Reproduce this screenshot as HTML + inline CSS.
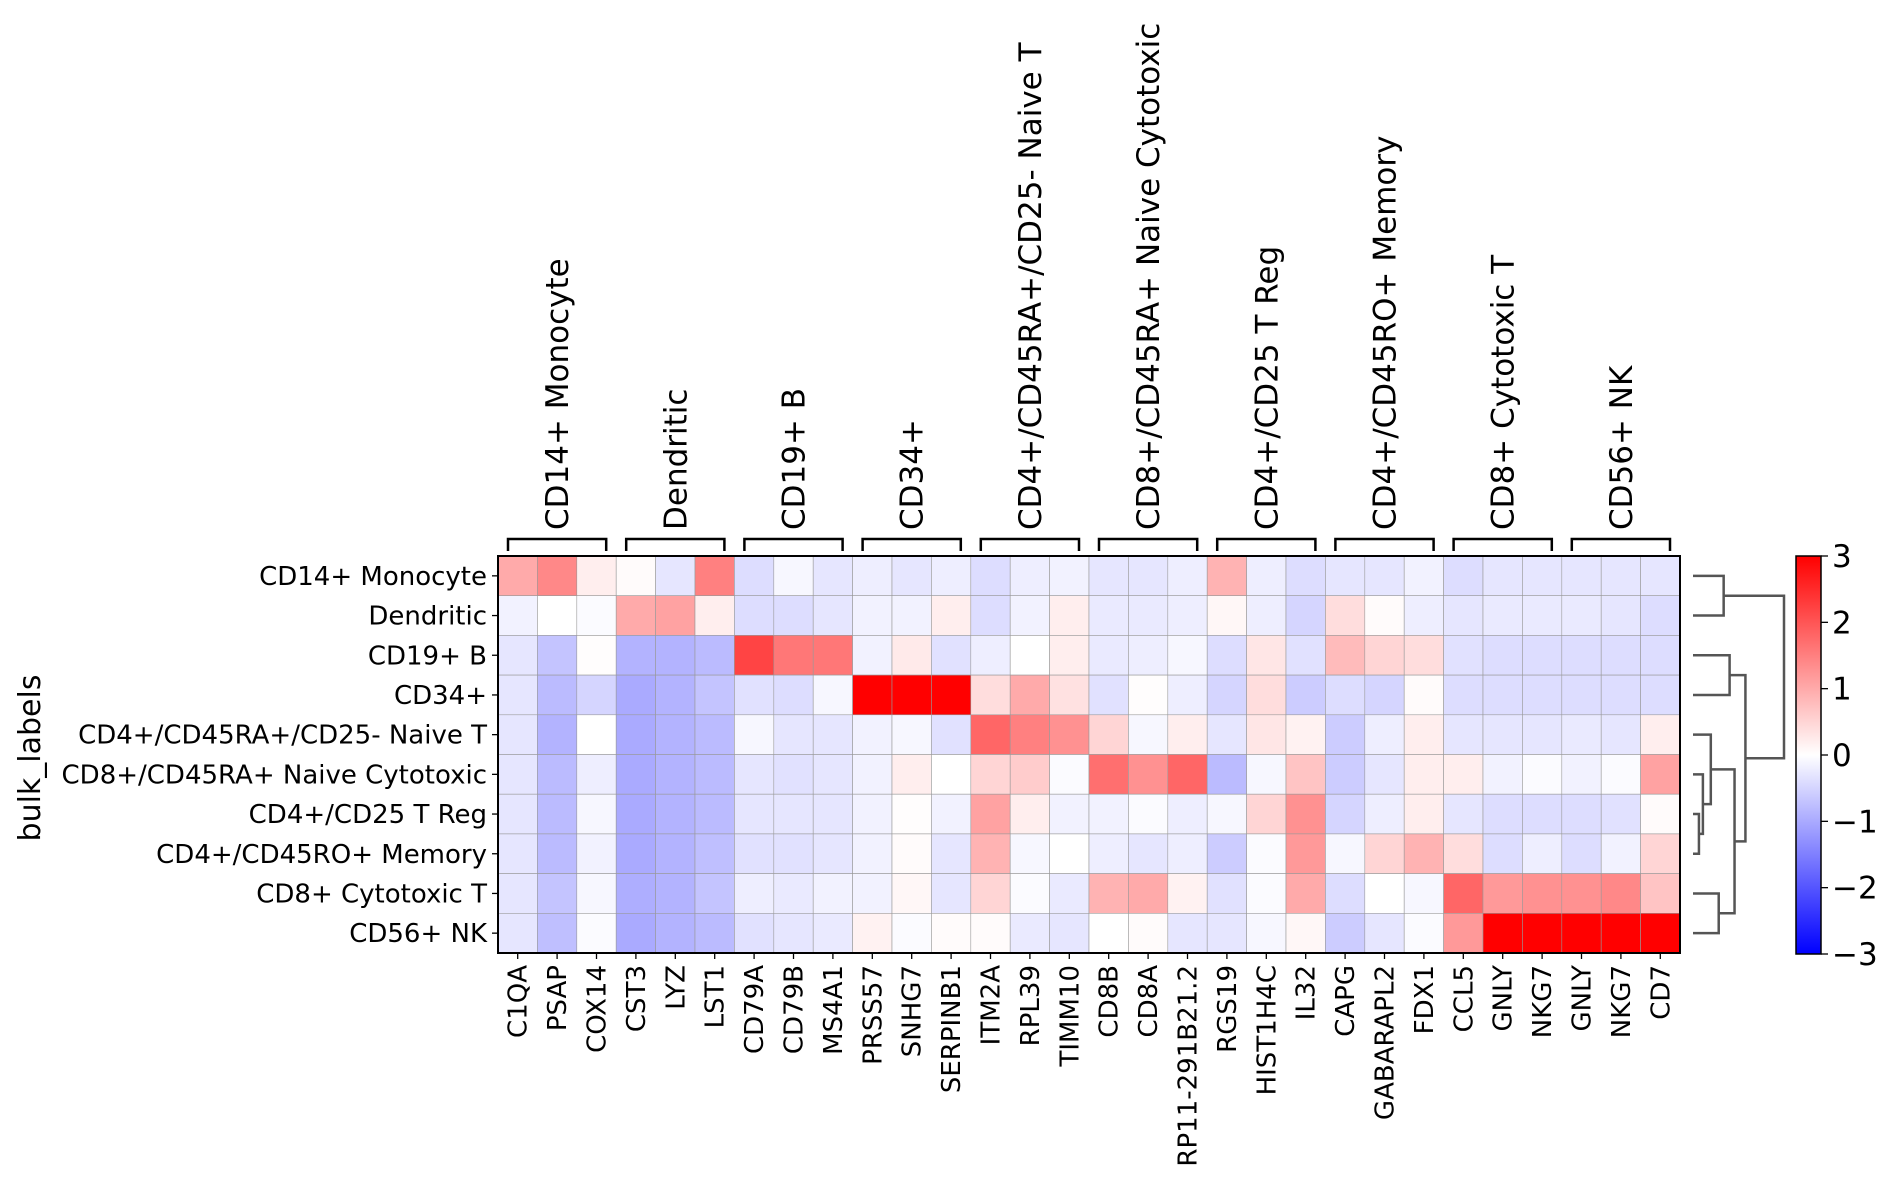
<!DOCTYPE html>
<html><head><meta charset="utf-8"><style>
body{margin:0;background:#fff}
svg text{font-family:"DejaVu Sans","Liberation Sans",sans-serif;fill:#000}
</style></head><body>
<svg id="chart" width="1898" height="1186" viewBox="0 0 1898 1186" xmlns="http://www.w3.org/2000/svg"></svg>
<script>
const rows=["CD14+ Monocyte","Dendritic","CD19+ B","CD34+","CD4+/CD45RA+/CD25- Naive T","CD8+/CD45RA+ Naive Cytotoxic","CD4+/CD25 T Reg","CD4+/CD45RO+ Memory","CD8+ Cytotoxic T","CD56+ NK"];
const genes=["C1QA","PSAP","COX14","CST3","LYZ","LST1","CD79A","CD79B","MS4A1","PRSS57","SNHG7","SERPINB1","ITM2A","RPL39","TIMM10","CD8B","CD8A","RP11-291B21.2","RGS19","HIST1H4C","IL32","CAPG","GABARAPL2","FDX1","CCL5","GNLY","NKG7","GNLY","NKG7","CD7"];
const groups=["CD14+ Monocyte","Dendritic","CD19+ B","CD34+","CD4+/CD45RA+/CD25- Naive T","CD8+/CD45RA+ Naive Cytotoxic","CD4+/CD25 T Reg","CD4+/CD45RO+ Memory","CD8+ Cytotoxic T","CD56+ NK"];
const groupSizes=[3,3,3,3,3,3,3,3,3,3];
const values=[
[1.0,1.4,0.2,0.05,-0.3,1.5,-0.4,-0.1,-0.3,-0.2,-0.3,-0.2,-0.4,-0.2,-0.15,-0.3,-0.3,-0.2,0.9,-0.2,-0.4,-0.3,-0.3,-0.15,-0.4,-0.3,-0.3,-0.3,-0.3,-0.3],
[-0.15,0,-0.05,1.0,1.1,0.2,-0.4,-0.4,-0.3,-0.15,-0.15,0.2,-0.4,-0.15,0.2,-0.25,-0.25,-0.2,0.1,-0.2,-0.5,0.4,0.05,-0.2,-0.3,-0.25,-0.25,-0.25,-0.3,-0.4],
[-0.3,-0.7,0.02,-0.9,-0.9,-0.8,2.2,1.6,1.6,-0.15,0.25,-0.35,-0.2,0.0,0.2,-0.25,-0.2,-0.1,-0.4,0.3,-0.35,0.8,0.5,0.4,-0.35,-0.4,-0.4,-0.4,-0.4,-0.4],
[-0.3,-0.8,-0.5,-1.0,-0.9,-0.7,-0.35,-0.4,-0.1,3,3,3,0.4,1.0,0.35,-0.35,0.02,-0.2,-0.5,0.4,-0.6,-0.4,-0.5,0.05,-0.4,-0.4,-0.4,-0.4,-0.4,-0.4],
[-0.3,-0.9,0.0,-1.0,-0.9,-0.8,-0.1,-0.3,-0.3,-0.15,-0.1,-0.35,1.8,1.5,1.3,0.5,-0.1,0.2,-0.3,0.3,0.15,-0.6,-0.2,0.2,-0.3,-0.3,-0.3,-0.25,-0.3,0.2],
[-0.3,-0.8,-0.2,-1.0,-0.9,-0.8,-0.3,-0.35,-0.3,-0.15,0.2,0.0,0.5,0.6,-0.05,1.7,1.3,1.8,-0.8,-0.1,0.7,-0.6,-0.3,0.2,0.2,-0.15,-0.05,-0.15,-0.05,1.1],
[-0.3,-0.8,-0.1,-1.0,-0.9,-0.8,-0.3,-0.3,-0.3,-0.15,0.02,-0.15,1.1,0.2,-0.15,-0.15,-0.05,-0.2,-0.1,0.5,1.3,-0.5,-0.2,0.2,-0.3,-0.4,-0.4,-0.4,-0.35,0.05],
[-0.3,-0.8,-0.15,-1.0,-0.9,-0.75,-0.35,-0.35,-0.3,-0.15,0.05,-0.3,0.9,-0.1,0.0,-0.2,-0.3,-0.2,-0.6,-0.05,1.2,-0.1,0.5,0.9,0.4,-0.4,-0.2,-0.4,-0.15,0.5],
[-0.3,-0.7,-0.1,-0.95,-0.9,-0.7,-0.2,-0.25,-0.15,-0.15,0.1,-0.3,0.5,-0.05,-0.25,0.9,1.0,0.15,-0.35,-0.05,1.0,-0.4,0.0,-0.1,1.8,1.2,1.3,1.3,1.4,0.7],
[-0.3,-0.75,-0.05,-1.0,-0.9,-0.8,-0.35,-0.3,-0.25,0.15,-0.05,0.05,0.05,-0.25,-0.3,0.0,0.05,-0.3,-0.3,-0.1,0.1,-0.6,-0.3,-0.05,1.2,3,3,3,3,3]];
const cbTicks=[3,2,1,0,-1,-2,-3];
// dendrogram links: [leftNode,rightNode,height]; nodes 0-9 leaves, 10+ merged
const links=[[6,7,0.6],[5,10,1.0],[4,11,1.8],[8,9,2.6],[12,13,4.2],[2,3,3.7],[0,1,3.1],[15,14,5.3],[16,17,9.2]];

const svg=document.getElementById('chart');const NS='http://www.w3.org/2000/svg';
function mk(t,a,p){const e=document.createElementNS(NS,t);for(const k in a)e.setAttribute(k,a[k]);(p||svg).appendChild(e);return e;}
const L=498,R=1680,T=556,B=953;
const cw=(R-L)/genes.length,rh=(B-T)/rows.length;
const xs=i=>L+i*cw, ys=j=>T+j*rh;
function col(v){v=Math.max(-3,Math.min(3,v));let r,g,b;if(v<0){r=g=Math.round(255*(1+v/3));b=255;}else{r=255;g=b=Math.round(255*(1-v/3));}return `rgb(${r},${g},${b})`;}
values.forEach((row,j)=>row.forEach((v,i)=>{const c=mk('rect',{x:xs(i),y:ys(j),width:cw,height:rh,fill:col(v),stroke:'#999','stroke-width':0.6});

}));
const fr=mk('rect',{x:L,y:T,width:R-L,height:B-T,fill:'none',stroke:'#000','stroke-width':2});

rows.forEach((r,j)=>{const y=ys(j)+rh/2;mk('line',{x1:L-6,x2:L,y1:y,y2:y,stroke:'#000','stroke-width':1.3});
const t=mk('text',{x:L-11,y:y+9,'text-anchor':'end','font-size':26});t.textContent=r;
});
genes.forEach((g,i)=>{const x=xs(i)+cw/2;mk('line',{x1:x,x2:x,y1:B,y2:B+6,stroke:'#000','stroke-width':1.3});
const t=mk('text',{transform:`translate(${x+9},${B+12}) rotate(-90)`,'text-anchor':'end','font-size':26});t.textContent=g;
});
let s=0;groups.forEach((g,k)=>{const x0=xs(s)+10,x1=xs(s+groupSizes[k])-10;s+=groupSizes[k];
const p=mk('path',{d:`M${x0},551 V539 H${x1} V551`,fill:'none',stroke:'#000','stroke-width':2.5});

const cx=(x0+x1)/2;const t=mk('text',{transform:`translate(${cx+11},530) rotate(-90)`,'font-size':31});t.textContent=g;
});
const yt=mk('text',{transform:'translate(40,758) rotate(-90)','text-anchor':'middle','font-size':30});yt.textContent='bulk_labels';

// colorbar
const defs=mk('defs',{});const lg=mk('linearGradient',{id:'cb',x1:0,y1:1,x2:0,y2:0},defs);
[-3,0,3].forEach((v,i)=>mk('stop',{offset:i/2,'stop-color':col(v)},lg));
const CL=1796,CR=1821,CT=556,CB=954;
const cb=mk('rect',{x:CL,y:CT,width:CR-CL,height:CB-CT,fill:'url(#cb)',stroke:'#000','stroke-width':1.5});

const cy=v=>CB-(v+3)/6*(CB-CT);
cbTicks.forEach(v=>{const y=cy(v);mk('line',{x1:CR,x2:CR+7,y1:y,y2:y,stroke:'#000','stroke-width':1.3});
const t=mk('text',{x:CR+11,y:y+11,'font-size':31});t.textContent=v<0?'\u2212'+(-v):String(v);
});
// dendrogram
const DX0=1693,DX1=1784,HMAX=9.2;const dx=h=>DX0+h/HMAX*(DX1-DX0);
const node={};rows.forEach((r,j)=>node[j]={y:ys(j)+rh/2,h:0});
links.forEach((lk,k)=>{const a=node[lk[0]],b=node[lk[1]],h=lk[2];
const p=mk('path',{d:`M${dx(a.h)},${a.y} H${dx(h)} V${b.y} H${dx(b.h)}`,fill:'none',stroke:'#555','stroke-width':2.5});

node[10+k]={y:(a.y+b.y)/2,h:h};});
</script>
</body></html>
